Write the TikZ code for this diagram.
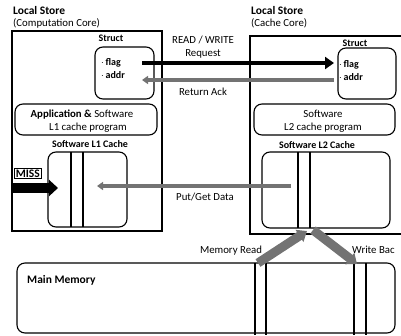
\documentclass[tikz,border=0pt]{standalone}
\usepackage{fontspec}
\setmainfont{Carlito}
\usetikzlibrary{arrows.meta}

\tikzset{
  store/.style={draw, line width=1.1pt, inner sep=0pt},
  rbox/.style={draw, line width=1.1pt, rounded corners=8pt, inner sep=0pt},
  head/.style={font=\bfseries\fontsize{11.5}{13}\selectfont, inner sep=0pt},
  body/.style={font=\fontsize{10.8}{12}\selectfont, inner sep=0pt},
  small/.style={font=\bfseries\fontsize{10}{11}\selectfont, inner sep=0pt},
  blackarrow/.style={line width=4.5pt, -{Triangle[length=9pt,width=12pt]}},
  grayarrow/.style={line width=4.5pt, black!55, -{Triangle[length=6pt,width=8pt]}},
  fatarrow/.style={line width=9pt, black!55, -{Triangle[length=9pt,width=14pt]}}
}

\begin{document}
\begin{tikzpicture}[x=1pt,y=-1pt]
\useasboundingbox (0,0) rectangle (401,335);
% local stores
\node[store, minimum width=150pt, minimum height=200pt] (storeL) at (87,131) {};
\node[store, minimum width=152pt, minimum height=198pt] (storeR) at (326,135) {};
\node[head, anchor=base west] (lsL) at (13,14) {Local Store};
\node[body, anchor=base west] (ccL) at (13,26) {(Computation Core)};
\node[head, anchor=base west] (lsR) at (251,14) {Local Store};
\node[body, anchor=base west] (ccR) at (251,26) {(Cache Core)};

% struct boxes
\node[rbox, minimum width=59pt, minimum height=52pt] (structL) at (124.5,73) {};
\node[rbox, minimum width=58pt, minimum height=51pt] (structR) at (367,73.5) {};
\node[small, anchor=base] (stL) at (111,41) {Struct};
\node[small, anchor=base] (stR) at (355,46) {Struct};
\node[small, anchor=base west] (flagL) at (101,65) {$\cdot$\,flag};
\node[small, anchor=base west] (addrL) at (101,78) {$\cdot$\,addr};
\node[small, anchor=base west] (flagR) at (339,67) {$\cdot$\,flag};
\node[small, anchor=base west] (addrR) at (339,80) {$\cdot$\,addr};

% program boxes
\node[rbox, minimum width=142pt, minimum height=31pt] (appL) at (86,119.5) {};
\node[rbox, minimum width=141pt, minimum height=31pt] (swR) at (324.5,119.5) {};
\node[body, anchor=base] (appT) at (82,117) {\textbf{Application \& }Software};
\node[body, anchor=base] (appB) at (88,130) {L1 cache program};
\node[body, anchor=base] (swT) at (323,117) {Software};
\node[body, anchor=base] (swB) at (323,130) {L2 cache program};

% caches
\node[small, anchor=base] (l1T) at (90,147) {Software L1 Cache};
\node[small, anchor=base] (l2T) at (317,148) {Software L2 Cache};
\node[rbox, minimum width=79pt, minimum height=75pt] (l1) at (87.5,189.5) {};
\node[rbox, minimum width=128pt, minimum height=76pt] (l2) at (326,190) {};
\draw[line width=1.1pt] (71,152) -- (71,227) (83,152) -- (83,227);
\draw[line width=1.1pt] (298,152) -- (298,228) (310,152) -- (310,228);

% main memory
\node[rbox, minimum width=378pt, minimum height=70pt] (mem) at (206,298) {};
\node[head, anchor=base west] (memT) at (27,283) {Main Memory};
\draw[line width=1.1pt] (255,263) -- (255,335) (266,263) -- (266,335);
\draw[line width=1.1pt] (354,263) -- (354,335) (366,263) -- (366,335);

% miss
\node[head, draw, line width=0.6pt, anchor=base west, inner sep=1.5pt] (miss) at (14,177) {MISS};
\coordinate (missS) at (13,188);
\coordinate (missE) at (58,188);
\draw[line width=10pt, -{Triangle[length=9pt,width=16pt]}] (missS) -- (missE);

% request / ack
\coordinate (reqS) at (142,63);
\coordinate (reqE) at (334,63);
\coordinate (ackS) at (334,80);
\coordinate (ackE) at (142,80);
\draw[blackarrow] (reqS) -- (reqE);
\draw[grayarrow] (ackS) -- (ackE);
\node[body, anchor=base] (rwT) at (203,43) {READ / WRITE};
\node[body, anchor=base] (rwB) at (203,56) {Request};
\node[body, anchor=base] (ackT) at (203,95) {Return Ack};

% put / get
\coordinate (pgS) at (291,186);
\coordinate (pgE) at (97,186);
\draw[grayarrow] (pgS) -- (pgE);
\node[body, anchor=base] (pgT) at (205,200) {Put/Get Data};

% memory read / write back
\coordinate (mrS) at (258,263);
\coordinate (mrE) at (307,231);
\coordinate (wbS) at (313,230);
\coordinate (wbE) at (357,264);
\draw[fatarrow] (mrS) -- (mrE);
\draw[fatarrow] (wbS) -- (wbE);
\node[body, anchor=base] (mrT) at (231,253) {Memory Read};
\node[body, anchor=base west] (wbT) at (352,253) {Write Bac};
\end{tikzpicture}
\end{document}
